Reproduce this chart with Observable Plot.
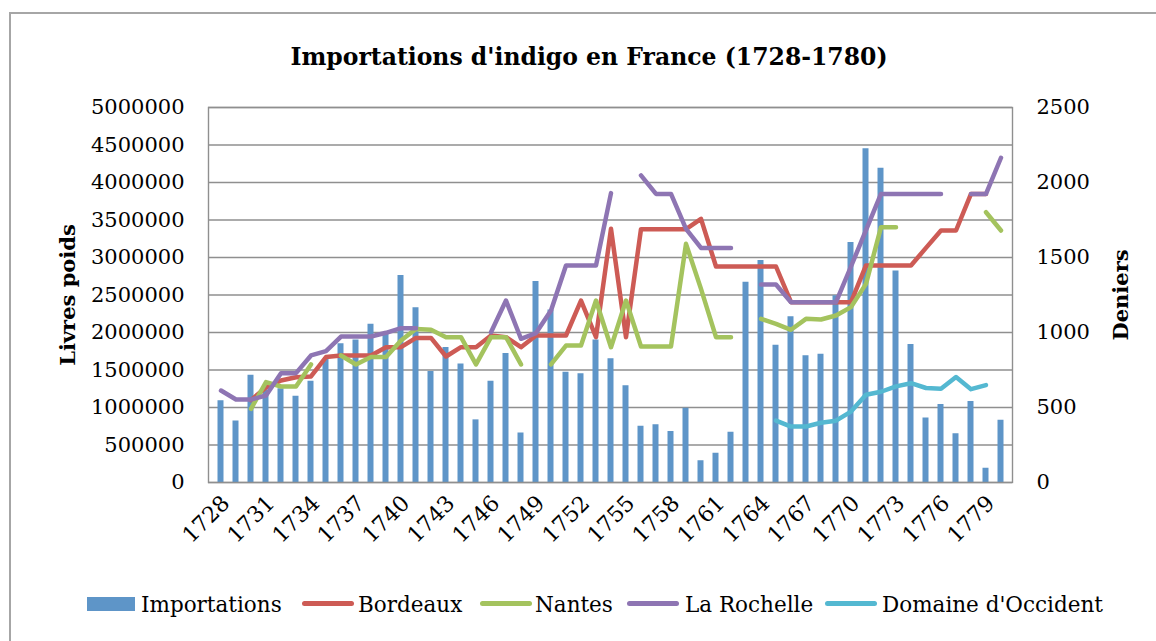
<!DOCTYPE html>
<html><head><meta charset="utf-8">
<script src="https://cdn.jsdelivr.net/npm/d3@7"></script>
<script src="https://cdn.jsdelivr.net/npm/@observablehq/plot@0.6"></script>
<style>
body{margin:0;background:#fff;font-family:"DejaVu Serif",serif;color:#000;}
#wrap{position:relative;width:1156px;height:641px;overflow:hidden;background:#fff;}
#border{position:absolute;left:9px;top:12px;width:1200px;height:700px;border-left:2px solid #a6a6a6;border-top:2px solid #a6a6a6;}
#title{position:absolute;left:0;width:1178px;top:43px;text-align:center;font-weight:bold;font-size:23.5px;}
#chart{position:absolute;left:0;top:0;}
.vlab{position:absolute;transform:translate(-50%,-50%) rotate(-90deg);white-space:nowrap;font-weight:bold;font-size:21px;}
.lg{position:absolute;font-size:21.5px;white-space:nowrap;line-height:1;}
.sw{position:absolute;}
</style></head><body>
<div id="wrap">
<div id="border"></div>
<div id="chart"></div>
<div id="title">Importations d'indigo en France (1728-1780)</div>
<div class="vlab" style="left:67px;top:295px">Livres poids</div>
<div class="vlab" style="left:1120px;top:295px">Deniers</div>
<div id="legend"></div>
</div>
<script>
const years = [1728,1729,1730,1731,1732,1733,1734,1735,1736,1737,1738,1739,1740,1741,1742,1743,1744,1745,1746,1747,1748,1749,1750,1751,1752,1753,1754,1755,1756,1757,1758,1759,1760,1761,1762,1763,1764,1765,1766,1767,1768,1769,1770,1771,1772,1773,1774,1775,1776,1777,1778,1779,1780];
const xTickYears = [1728,1731,1734,1737,1740,1743,1746,1749,1752,1755,1758,1761,1764,1767,1770,1773,1776,1779];
const leftTicks = [0,500000,1000000,1500000,2000000,2500000,3000000,3500000,4000000,4500000,5000000];
const rightTicks = [0,500,1000,1500,2000,2500];

// Importations (livres poids)
const importations = [1090000,820000,1430000,1230000,1250000,1150000,1350000,1640000,1850000,1900000,2110000,2000000,2760000,2330000,1480000,1800000,1580000,835000,1350000,1720000,660000,2680000,2300000,1470000,1450000,1900000,1650000,1290000,750000,770000,680000,990000,290000,390000,670000,2670000,2960000,1830000,2210000,1690000,1710000,2490000,3200000,4450000,4190000,2820000,1840000,860000,1040000,650000,1080000,190000,830000];
// Prices (deniers)
const bordeaux = [null,null,550,633,680,702,707,836,847,847,847,902,902,964,964,840,902,902,980,969,902,980,980,980,1213,969,1691,969,1689,1689,1689,1689,1758,1440,1440,1440,1440,1440,1202,1202,1202,1202,1202,1447,1447,1447,1447,1564,1680,1680,1924,1924,null];
const nantes = [null,null,491,669,640,640,787,null,847,787,836,836,947,1024,1018,969,969,787,969,969,787,null,787,913,913,1213,902,1213,907,907,907,1591,1291,969,969,null,1091,1058,1018,1091,1087,1113,1169,1324,1702,1702,null,null,null,null,null,1802,1680];
const laRochelle = [613,553,553,580,729,729,847,876,973,973,973,998,1029,1029,null,null,null,null,1002,1213,958,996,1147,1447,1447,1447,1929,null,2047,1924,1924,1691,1564,1564,1564,null,1320,1320,1202,1202,1202,1202,1440,1682,1924,1924,1924,1924,1924,null,1924,1924,2165];
const domaine = [null,null,null,null,null,null,null,null,null,null,null,null,null,null,null,null,null,null,null,null,null,null,null,null,null,null,null,null,null,null,null,null,null,null,null,null,null,413,373,373,398,412,473,585,605,641,662,630,625,703,622,649,null];

const seriesNames = ["Bordeaux","Nantes","La Rochelle","Domaine d'Occident"];
const seriesColors = ["#cd5b55","#a4c35e","#8e75b3","#54b8d1"];
const barColor = "#5e95c8";

const RATIO = 5000000/2500; // right axis to left axis
const bars = years.map((y,i)=>({year:y, v:importations[i]}));
const mk = arr => years.map((y,i)=>({year:y, v: arr[i]==null ? NaN : arr[i]*RATIO}));
const seriesData = [bordeaux,nantes,laRochelle,domaine].map(mk);

const chart = Plot.plot({
  width:1156, height:560,
  marginLeft:208, marginRight:144, marginTop:107, marginBottom:78,
  style:{fontFamily:"'DejaVu Serif',serif", fontSize:"21px", color:"#000", background:"transparent", overflow:"visible"},
  x:{type:"band", domain:years, padding:0},
  y:{domain:[0,5000000]},
  marks:[
    Plot.gridY(leftTicks,{stroke:"#8f8f8f", strokeOpacity:1, strokeWidth:1.4}),
    Plot.barY(bars,{x:"year", y:"v", fill:barColor, insetLeft:4.5, insetRight:4.5}),
    ...seriesData.map((d,k)=>Plot.lineY(d,{x:"year", y:"v", stroke:seriesColors[k], strokeWidth:4.5, strokeLinejoin:"round", strokeLinecap:"round"})),
    Plot.frame({stroke:"#8f8f8f", strokeWidth:1.4}),
    Plot.axisY({ticks:leftTicks, tickSize:0, tickPadding:24, tickFormat:d=>String(d), label:null}),
    Plot.axisY({anchor:"right", ticks:rightTicks.map(d=>d*RATIO), tickSize:0, tickPadding:24, tickFormat:d=>String(Math.round(d/RATIO)), label:null}),
    Plot.axisX({ticks:xTickYears, tickRotate:-45, tickSize:0, tickPadding:17, tickFormat:d=>String(d), label:null, dx:5, fontSize:22})
  ]
});
document.getElementById("chart").appendChild(chart);

// Legend
const legend = document.getElementById("legend");
const items = [
  {name:"Importations", color:barColor, kind:"rect", sx:87, tx:141},
  {name:seriesNames[0], color:seriesColors[0], kind:"line", sx:302, tx:358},
  {name:seriesNames[1], color:seriesColors[1], kind:"line", sx:480, tx:535},
  {name:seriesNames[2], color:seriesColors[2], kind:"line", sx:627, tx:685},
  {name:seriesNames[3], color:seriesColors[3], kind:"line", sx:825, tx:882}
];
for (const it of items) {
  const s = document.createElement("div");
  s.className = "sw";
  if (it.kind === "rect") {
    Object.assign(s.style,{left:it.sx+"px", top:"597px", width:"48px", height:"14px", background:it.color});
  } else {
    Object.assign(s.style,{left:it.sx+"px", top:"601px", width:"52px", height:"5px", borderRadius:"3px", background:it.color});
  }
  legend.appendChild(s);
  const t = document.createElement("div");
  t.className = "lg";
  t.textContent = it.name;
  Object.assign(t.style,{left:it.tx+"px", top:"594px"});
  legend.appendChild(t);
}
</script>
</body></html>
